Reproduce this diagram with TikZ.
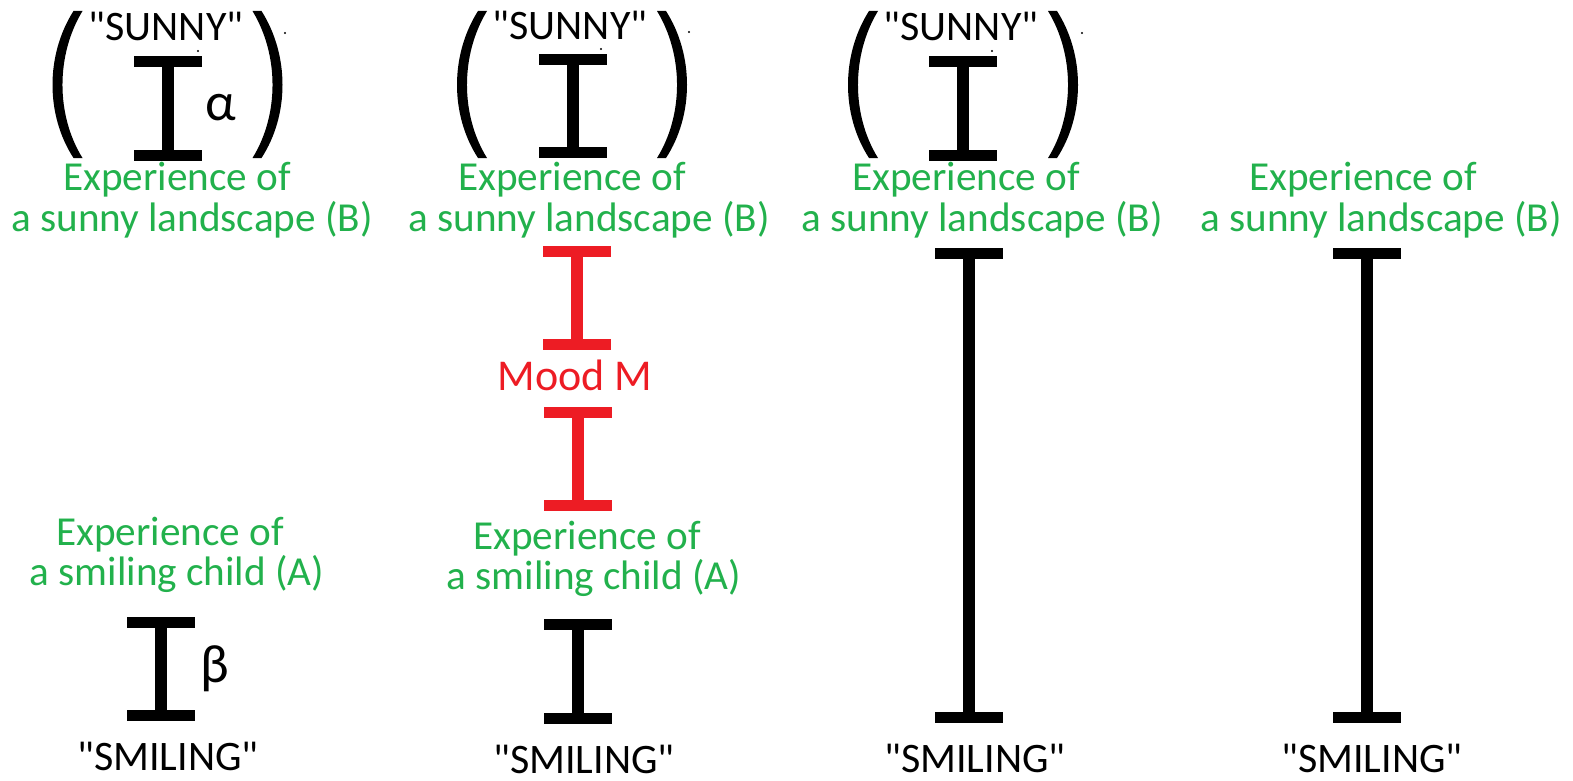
\documentclass[tikz,border=0pt]{standalone}
\usepackage{fontspec}
\setmainfont{Carlito}[Ligatures=TeXOff]
\definecolor{pgreen}{HTML}{22B14C}
\definecolor{pred}{HTML}{ED1C24}
\newcommand\IBeam[5]{% name, x, top, bottom, colour
  \coordinate (#1t) at (#2,#3);
  \coordinate (#1b) at (#2,#4);
  \draw[stem,#5] (#1t) -- (#1b);
  \draw[crossbar,#5] ([xshift=-17pt]#1t) -- ([xshift=17pt]#1t);
  \draw[crossbar,#5] ([xshift=-17pt]#1b) -- ([xshift=17pt]#1b);
}
\begin{document}
\begin{tikzpicture}[x=0.5pt,y=-0.5pt,
  stem/.style={line width=6pt},
  crossbar/.style={line width=5.5pt},
  word/.style={inner sep=0pt,anchor=base,font=\fontsize{21pt}{24pt}\selectfont},
  gword/.style={inner sep=0pt,anchor=base,text=pgreen,font=\fontsize{20.6pt}{24pt}\selectfont},
  rword/.style={inner sep=0pt,anchor=base,text=pred,font=\fontsize{22pt}{26pt}\selectfont},
  greek/.style={inner sep=0pt,anchor=base,font=\fontsize{27pt}{30pt}\selectfont},
  lparen/.pic={\fill (-94,11) .. controls (-122,55) and (-122,115) .. (-94,158)
       -- (-85,158) .. controls (-111.7,115) and (-111.7,55) .. (-85,11) -- cycle;},
  rparen/.pic={\fill (94,11) .. controls (122,55) and (122,115) .. (94,158)
       -- (85,158) .. controls (111.7,115) and (111.7,55) .. (85,11) -- cycle;},
  speck/.style={fill=black,inner sep=0pt,minimum size=1.2pt,circle}
]
\useasboundingbox (0,0) rectangle (1573,781);

% ---------- column 1 ----------
\pic at (167.5,0) {lparen};
\pic at (167.5,0) {rparen};
\node[word] (s1) at (166,41) {"SUNNY"};
\IBeam{a1}{168}{61.5}{155.5}{black}
\node[greek] (alpha) at (221,120) {α};
\node[gword] (e1a) at (177,191) {Experience of};
\node[gword] (e1b) at (192,231) {a sunny landscape (B)};
\node[gword] (c1a) at (170,545) {Experience of};
\node[gword] (c1b) at (177,585) {a smiling child (A)};
\IBeam{b1}{161}{622.5}{715.5}{black}
\node[greek] (beta) at (215,682) {β};
\node[word] (m1) at (168,770) {"SMILING"};
\node[speck] (d1a) at (285,33) {};
\node[speck] (d1b) at (198,51) {};

% ---------- column 2 ----------
\pic at (572,0) {lparen};
\pic at (572,0) {rparen};
\node[word] (s2) at (570,40) {"SUNNY"};
\IBeam{a2}{573}{59.5}{152.5}{black}
\node[gword] (e2a) at (572,191) {Experience of};
\node[gword] (e2b) at (589,231) {a sunny landscape (B)};
\IBeam{r1}{577}{251}{344.5}{pred}
\node[rword] (mood) at (575,390) {Mood M};
\IBeam{r2}{578}{412}{505}{pred}
\node[gword] (c2a) at (587,549) {Experience of};
\node[gword] (c2b) at (594,589) {a smiling child (A)};
\IBeam{b2}{578}{624.5}{718}{black}
\node[word] (m2) at (584,773) {"SMILING"};
\node[speck] (d2a) at (689,32) {};
\node[speck] (d2b) at (601,49) {};

% ---------- column 3 ----------
\pic at (963,0) {lparen};
\pic at (963,0) {rparen};
\node[word] (s3) at (961,41) {"SUNNY"};
\IBeam{a3}{963}{61.5}{155.5}{black}
\node[gword] (e3a) at (966,191) {Experience of};
\node[gword] (e3b) at (982,231) {a sunny landscape (B)};
\IBeam{b3}{969}{253}{717.5}{black}
\node[word] (m3) at (975,772) {"SMILING"};
\node[speck] (d3a) at (1082,33) {};
\node[speck] (d3b) at (992,51) {};

% ---------- column 4 ----------
\node[gword] (e4a) at (1363,191) {Experience of};
\node[gword] (e4b) at (1381,231) {a sunny landscape (B)};
\IBeam{b4}{1367}{253}{717.5}{black}
\node[word] (m4) at (1372,772) {"SMILING"};
\end{tikzpicture}
\end{document}
